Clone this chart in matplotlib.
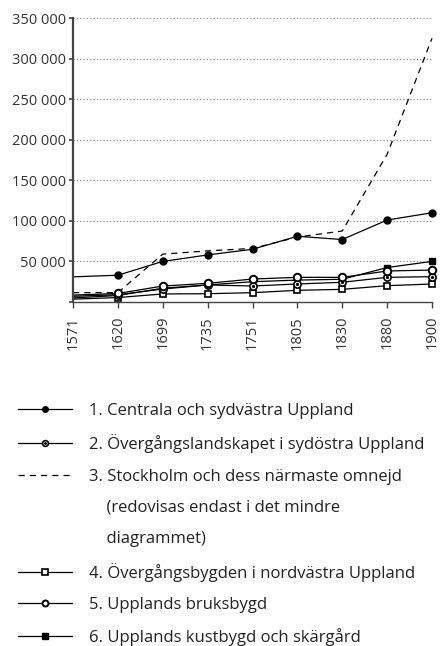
import matplotlib.pyplot as plt
from matplotlib.lines import Line2D
from matplotlib.ticker import FuncFormatter, MultipleLocator

plt.rcParams['font.family'] = ['Open Sans', 'DejaVu Sans']

years = ["1571", "1620", "1699", "1735", "1751", "1805", "1830", "1880", "1900"]

centrala = [31000, 33000, 50000, 58000, 65000, 81000, 77000, 101000, 110000]
sydostra = [7000, 9000, 16000, 21000, 19700, 22200, 24300, 30400, 31200]
stockholm = [11500, 11500, 59000, 63000, 66000, 80000, 87500, 182000, 325000]
nordvastra = [3500, 5500, 9900, 10200, 11500, 14400, 15600, 20100, 22200]
bruksbygd = [8500, 10500, 19700, 23000, 28300, 30400, 30400, 38200, 39400]
kustbygd = [5000, 8000, 17000, 21000, 25000, 27000, 28000, 42500, 50000]

labels = [
    "1. Centrala och sydvästra Uppland",
    "2. Övergångslandskapet i sydöstra Uppland",
    "3. Stockholm och dess närmaste omnejd",
    "    (redovisas endast i det mindre",
    "    diagrammet)",
    "4. Övergångsbygden i nordvästra Uppland",
    "5. Upplands bruksbygd",
    "6. Upplands kustbygd och skärgård",
]

x = list(range(len(years)))

fig = plt.figure(figsize=(4.41, 6.46), dpi=100)
ax = fig.add_axes([73 / 441, 1 - 302 / 646, (432 - 73) / 441, (302 - 18) / 646])

lw = 0.9
kw = dict(color="black", lw=lw, clip_on=False, markevery=slice(1, None))

l3, = ax.plot(x, stockholm, ls=(0, (5, 4)), color="black", lw=lw, clip_on=False)
l4, = ax.plot(x, nordvastra, marker="s", ms=4.6, mfc="white", mec="black", mew=1.2, **kw)
l2, = ax.plot(x, sydostra, marker="o", ms=5.2, mfc="white", mec="black", mew=1.2, **kw)
l2dot, = ax.plot(x, sydostra, ls="none", marker="o", ms=1.3, color="black",
                 clip_on=False, markevery=slice(1, None))
l6, = ax.plot(x, kustbygd, marker="s", ms=5, mfc="black", mec="black",
              color="black", lw=lw, clip_on=False, markevery=[7, 8])
l5, = ax.plot(x, bruksbygd, marker="o", ms=5.4, mfc="white", mec="black", mew=1.4, **kw)
l1, = ax.plot(x, centrala, marker="o", ms=5, mfc="black", mec="black", **kw)

ax.set_xlim(0, len(years) - 1)
ax.set_ylim(0, 350000)
ax.set_xticks(x)
ax.set_xticklabels(years, rotation=90, fontsize=10.5, color="#333333")
ax.yaxis.set_major_locator(MultipleLocator(50000))
ax.yaxis.set_major_formatter(FuncFormatter(
    lambda v, p: "" if v == 0 else f"{v:,.0f}".replace(",", " ")))
ax.tick_params(axis="y", labelsize=10.5, labelcolor="#333333", length=3,
               width=1.2, color="#444444", pad=2)
ax.tick_params(axis="x", length=4, width=1, color="#444444", pad=6)

for s in ["top", "right"]:
    ax.spines[s].set_visible(False)
ax.spines["left"].set_color("#444444")
ax.spines["left"].set_linewidth(1.6)
ax.spines["bottom"].set_color("#444444")
ax.spines["bottom"].set_linewidth(1.0)

ax.grid(axis="y", ls=(0, (1, 2)), color="#777777", lw=0.8)
ax.set_axisbelow(True)
for gl, v in zip(ax.get_ygridlines(), ax.get_yticks()):
    if v == 0:
        gl.set_visible(False)

blank = Line2D([], [], color="none")
handles = [l1, (l2, l2dot), l3, blank, blank, l4, l5, l6]
fig.legend(handles, labels, loc="upper left", bbox_to_anchor=(18 / 441, 1 - 403 / 646),
           frameon=False, fontsize=12, handlelength=3.25, handletextpad=1.0,
           labelspacing=0.92, borderpad=0, borderaxespad=0, markerscale=0.8,
           labelcolor="#222222")

fig.savefig("out.png", dpi=100)
